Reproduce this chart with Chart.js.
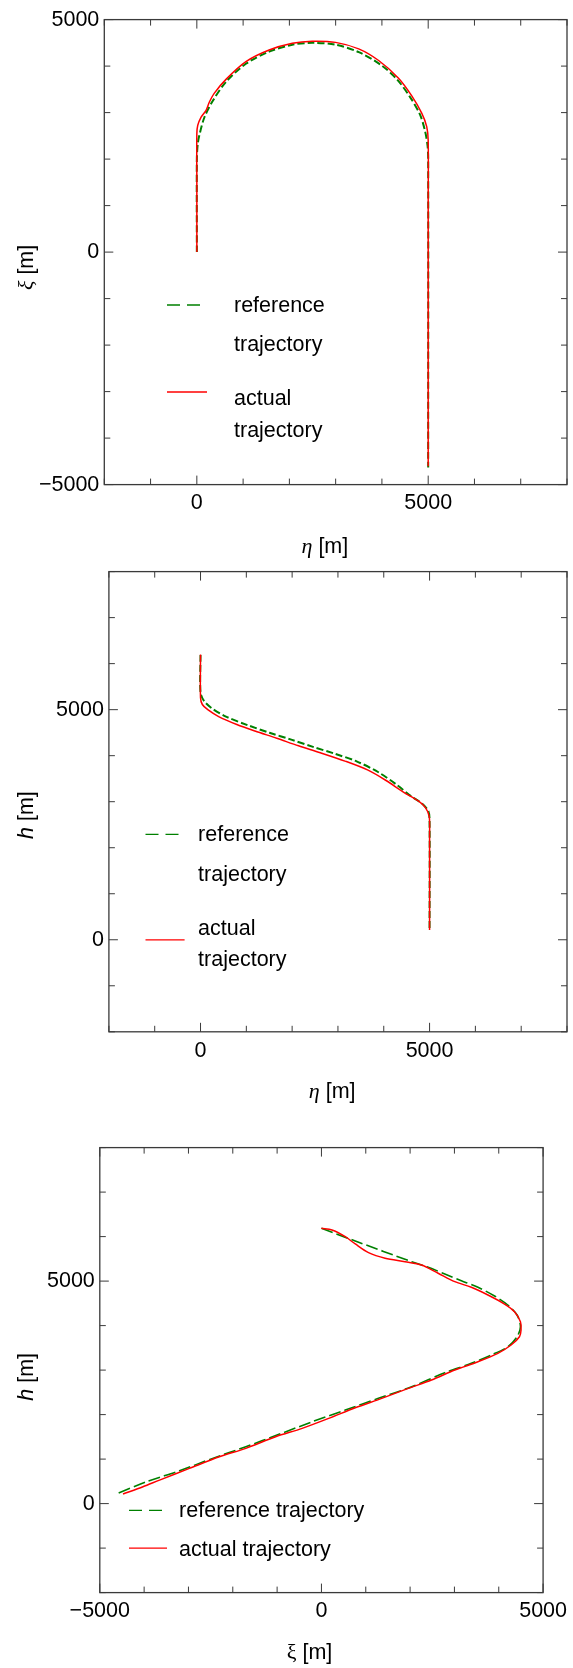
<!DOCTYPE html>
<html><head><meta charset="utf-8">
<script src="https://cdn.jsdelivr.net/npm/chart.js@4/dist/chart.umd.min.js"></script>
<style>
html,body{margin:0;padding:0;background:#fff;}
body{width:573px;height:1668px;position:relative;overflow:hidden;}
canvas{position:absolute;left:0;}
</style></head><body>
<canvas id="c1" width="573" height="580" style="top:0px"></canvas>
<canvas id="c2" width="573" height="580" style="top:530px"></canvas>
<canvas id="c3" width="573" height="578" style="top:1090px"></canvas>
<script>
// ---------- Panel 1: xi vs eta ----------
const P1_REF_ETA = [0, 0, 20, 56, 164, 343, 630, 1060, 1562, 2063, 2494, 3000, 3500, 4000, 4340, 4630, 4826, 4933, 4985, 5000, 5000];
const P1_REF_XI  = [0, 2000, 2330, 2520, 2900, 3250, 3660, 4050, 4310, 4460, 4500, 4460, 4300, 4010, 3700, 3300, 2950, 2600, 2300, 2000, -4630];
const P1_ACT_ETA = [0, 0, 0, 20, 92, 200, 271, 379, 630, 1060, 1562, 2063, 2494, 2997, 3498, 3929, 4359, 4645, 4860, 4968, 5000, 5000, 5000];
const P1_ACT_XI  = [0, 1500, 2548, 2727, 2905, 3049, 3228, 3420, 3715, 4095, 4345, 4490, 4535, 4510, 4370, 4120, 3740, 3360, 2990, 2700, 2400, 1114, -4606];

// ---------- Panel 2: h vs eta ----------
const P2_REF_ETA = [0, 0, 79, 238, 555, 1030, 1506, 1981, 2456, 2932, 3407, 3883, 4279, 4596, 4834, 4976, 5000, 5000];
const P2_REF_H   = [6190, 5374, 5187, 5037, 4850, 4663, 4498, 4349, 4192, 4042, 3877, 3640, 3370, 3120, 2960, 2792, 2567, 214];
const P2_ACT_ETA = [0, 0, 40, 158, 396, 792, 1189, 1664, 2139, 2615, 3170, 3645, 4041, 4437, 4754, 4913, 4992, 5000, 5000];
const P2_ACT_H   = [6198, 5262, 5112, 5000, 4850, 4678, 4536, 4379, 4214, 4064, 3877, 3690, 3466, 3204, 3016, 2867, 2680, 2268, 210];

// ---------- Panel 3: h vs xi ----------
const P3_REF_XI = [0, 763, 2035, 2409, 2783, 3156, 3531, 3906, 4204, 4413, 4489, 4413, 4204, 3830, 3381, 2783, 2035, 1286, 538, -211, -958, -1706, -2455, -3203, -3951, -4640];
const P3_REF_H  = [6187, 5902, 5436, 5310, 5160, 5009, 4861, 4665, 4463, 4238, 3975, 3750, 3525, 3339, 3152, 2941, 2626, 2365, 2102, 1839, 1556, 1277, 1016, 737, 490, 214];
const P3_ACT_XI = [0, 238, 538, 763, 1062, 1437, 1886, 2258, 2633, 3008, 3381, 3756, 4130, 4355, 4489, 4503, 4467, 4279, 3980, 3531, 3008, 2483, 1960, 1360, 763, 164, -435, -1033, -1706, -2305, -2979, -3652, -4027, -4476];
const P3_ACT_H  = [6187, 6149, 5998, 5834, 5639, 5513, 5436, 5362, 5176, 4987, 4861, 4688, 4485, 4313, 4088, 3900, 3750, 3564, 3376, 3188, 3001, 2776, 2590, 2365, 2154, 1915, 1691, 1502, 1241, 1052, 791, 528, 378, 214];

// ---------- axes / labels ----------
const P1_X_RANGE = [-2000, 8000], P1_Y_RANGE = [-5000, 5000];
const P2_X_RANGE = [-2000, 8000], P2_Y_RANGE = [-2000, 8000];
const P3_X_RANGE = [-5000, 5000], P3_Y_RANGE = [-2000, 8000];
const TICK_STEP = 1000;
const LABELED_TICKS = [-5000, 0, 5000];
const REF_LABEL_WRAPPED = ['reference', 'trajectory'];
const ACT_LABEL_WRAPPED = ['actual', 'trajectory'];
const REF_LABEL = ['reference trajectory'];
const ACT_LABEL = ['actual trajectory'];

const GREEN = '#008000', RED = '#ff0000', FRAME = '#3a3a3a';
const SANS = '"Liberation Sans", Arial, sans-serif';
const SERIF = '"Liberation Serif", "Times New Roman", serif';
const FS = 21.5;

function xy(xs, ys) { return xs.map((x, i) => ({x: x, y: ys[i]})); }

const framePlugin = {
  id: 'frame',
  afterDraw(chart, args, o) {
    const ctx = chart.ctx, a = chart.chartArea;
    const xs = chart.scales.x, ys = chart.scales.y;
    ctx.save();
    ctx.strokeStyle = FRAME; ctx.lineWidth = 1;
    xs.ticks.forEach(t => {
      const p = xs.getPixelForValue(t.value);
      const L = (t.value % 5000 === 0) ? 9 : 6;
      ctx.beginPath(); ctx.moveTo(p, a.bottom); ctx.lineTo(p, a.bottom - L);
      ctx.moveTo(p, a.top); ctx.lineTo(p, a.top + L); ctx.stroke();
    });
    ys.ticks.forEach(t => {
      const p = ys.getPixelForValue(t.value);
      const L = (t.value % 5000 === 0) ? 9 : 6;
      ctx.beginPath(); ctx.moveTo(a.left, p); ctx.lineTo(a.left + L, p);
      ctx.moveTo(a.right, p); ctx.lineTo(a.right - L, p); ctx.stroke();
    });
    ctx.lineWidth = 1.3;
    ctx.strokeRect(a.left, a.top, a.right - a.left, a.bottom - a.top);

    function drawParts(parts, x, y, rot) {
      ctx.save();
      ctx.translate(x, y);
      if (rot) ctx.rotate(-Math.PI / 2);
      ctx.fillStyle = '#000'; ctx.textBaseline = 'alphabetic'; ctx.textAlign = 'left';
      let cx = 0;
      parts.forEach(p => { ctx.font = p.f; ctx.fillText(p.t, cx, 0); cx += ctx.measureText(p.t).width; });
      ctx.restore();
    }
    drawParts(o.xTitle, o.xTitlePos[0], o.xTitlePos[1], false);
    drawParts(o.yTitle, o.yTitlePos[0], o.yTitlePos[1], true);

    const ds = chart.data.datasets;
    o.legend.forEach((e, i) => {
      const d = ds[i];
      ctx.strokeStyle = d.borderColor; ctx.lineWidth = 1.3;
      ctx.setLineDash(e.dash || []);
      ctx.beginPath(); ctx.moveTo(e.x0, e.ly); ctx.lineTo(e.x1, e.ly); ctx.stroke();
      ctx.setLineDash([]);
      ctx.fillStyle = '#000'; ctx.font = FS + 'px ' + SANS; ctx.textAlign = 'left'; ctx.textBaseline = 'alphabetic';
      d.label.forEach((t, k) => ctx.fillText(t, o.legendTextX, e.base[k]));
    });
    ctx.restore();
  }
};

function makeChart(p) {
  const cv = document.getElementById(p.id);
  const H = cv.height;
  const tickFont = {family: SANS, size: FS};
  const cb = v => LABELED_TICKS.includes(v) ? (v < 0 ? '\u2212' + Math.abs(v) : String(v)) : '';
  return new Chart(cv, {
    type: 'scatter',
    data: { datasets: [
      { label: p.refLabel, data: xy(p.ref[0], p.ref[1]), borderColor: GREEN, borderWidth: p.refW,
        borderDash: p.refDash, showLine: true, pointRadius: 0, tension: 0.3, fill: false, order: 2 },
      { label: p.actLabel, data: xy(p.act[0], p.act[1]), borderColor: RED, borderWidth: 1.5,
        showLine: true, pointRadius: 0, tension: 0.3, fill: false, order: 1 }
    ]},
    options: {
      responsive: false, animation: false, devicePixelRatio: 1,
      layout: { padding: { left: 0, top: p.area.t, right: 573 - p.area.r, bottom: 0 } },
      plugins: { legend: {display: false}, tooltip: {enabled: false}, frame: p.frame },
      scales: {
        x: { type: 'linear', min: p.xr[0], max: p.xr[1],
             afterFit: s => { s.height = H - p.area.b; },
             ticks: { stepSize: TICK_STEP, autoSkip: false, maxRotation: 0, minRotation: 0, padding: 6,
                      font: tickFont, color: '#000', callback: cb },
             grid: { display: false, drawTicks: false }, border: { display: false } },
        y: { type: 'linear', min: p.yr[0], max: p.yr[1],
             afterFit: s => { s.width = p.area.l; },
             ticks: { stepSize: TICK_STEP, autoSkip: false, padding: 5,
                      font: tickFont, color: '#000', callback: cb },
             grid: { display: false, drawTicks: false }, border: { display: false } }
      }
    },
    plugins: [framePlugin]
  });
}

const tf = (g, gi) => [{t: g, f: (gi ? 'italic ' : '') + (FS + 0.5) + 'px ' + SERIF}, {t: ' [m]', f: FS + 'px ' + SANS}];
const th = () => [{t: 'h', f: 'italic ' + FS + 'px ' + SANS}, {t: ' [m]', f: FS + 'px ' + SANS}];

makeChart({ id: 'c1', area: {l: 104.3, r: 569.2, t: 19.6, b: 484.6}, xr: P1_X_RANGE, yr: P1_Y_RANGE,
  ref: [P1_REF_ETA, P1_REF_XI], act: [P1_ACT_ETA, P1_ACT_XI], refW: 2, refDash: [7, 3],
  refLabel: REF_LABEL_WRAPPED, actLabel: ACT_LABEL_WRAPPED,
  frame: { xTitle: tf('\u03b7', true), xTitlePos: [301.5, 553], yTitle: tf('\u03be', true), yTitlePos: [33, 290],
    legendTextX: 234,
    legend: [ {x0: 167, x1: 203, ly: 305, dash: [13, 7], base: [312, 351]},
              {x0: 167, x1: 207, ly: 392, base: [405, 436.5]} ] } });

makeChart({ id: 'c2', area: {l: 108.9, r: 569.5, t: 41.6, b: 501.8}, xr: P2_X_RANGE, yr: P2_Y_RANGE,
  ref: [P2_REF_ETA, P2_REF_H], act: [P2_ACT_ETA, P2_ACT_H], refW: 2, refDash: [7, 3],
  refLabel: REF_LABEL_WRAPPED, actLabel: ACT_LABEL_WRAPPED,
  frame: { xTitle: tf('\u03b7', true), xTitlePos: [308.8, 568], yTitle: th(), yTitlePos: [33, 309],
    legendTextX: 198.1,
    legend: [ {x0: 145.5, x1: 180.2, ly: 304.4, dash: [13, 7], base: [311.4, 351.4]},
              {x0: 145.5, x1: 184.6, ly: 409.8, base: [404.7, 436]} ] } });

makeChart({ id: 'c3', area: {l: 99.8, r: 545.3, t: 57.6, b: 502.6}, xr: P3_X_RANGE, yr: P3_Y_RANGE,
  ref: [P3_REF_XI, P3_REF_H], act: [P3_ACT_XI, P3_ACT_H], refW: 1.6, refDash: [12, 4],
  refLabel: REF_LABEL, actLabel: ACT_LABEL,
  frame: { xTitle: tf('\u03be', false), xTitlePos: [286.7, 569], yTitle: th(), yTitlePos: [33, 310.7],
    legendTextX: 179.1,
    legend: [ {x0: 129, x1: 162.6, ly: 420.4, dash: [13, 7], base: [427]},
              {x0: 129, x1: 167, ly: 458.1, base: [466]} ] } });
</script>
</body></html>
